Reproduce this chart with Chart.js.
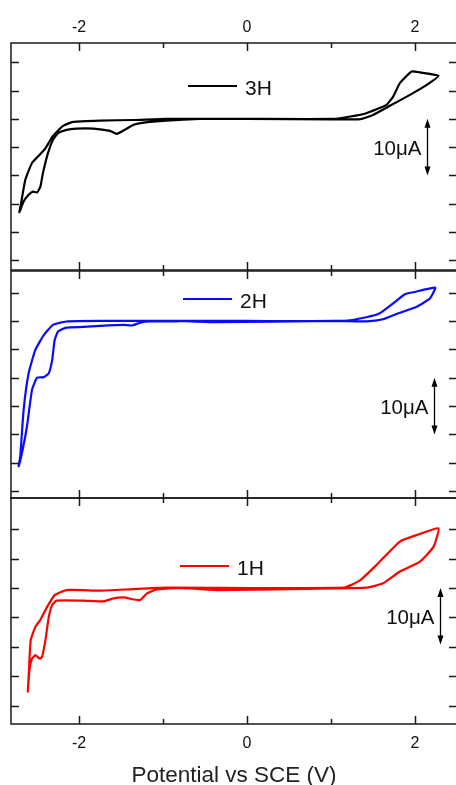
<!DOCTYPE html>
<html>
<head>
<meta charset="utf-8">
<script src="https://cdn.jsdelivr.net/npm/chart.js@4"></script>
<style>
  html, body { margin: 0; padding: 0; background: #fff; overflow: hidden; width: 456px; height: 785px; position: relative; }
  canvas { position: absolute; left: 0; }
</style>
</head>
<body>
<canvas id="cv3" width="460" height="275" style="top:0px"></canvas>
<canvas id="cv2" width="460" height="237" style="top:266px"></canvas>
<canvas id="cv1" width="460" height="296" style="top:493px"></canvas>
<script>
// potential (V vs SCE) and current (uA)
const xTicks = [-2, 0, 2];
const xMinorTicks = [-1, 1];

const v3H = [-0.56, -0.96, -1.23, -1.35, -1.55, -1.63, -1.83, -2.03, -2.15, -2.25, -2.31, -2.37, -2.43, -2.46, -2.50, -2.55, -2.60, -2.66, -2.71,
             -2.69, -2.64, -2.56, -2.46, -2.40, -2.31, -2.19, -2.07, -1.75, -1.35, -0.96, 0, 1.03, 1.23, 1.42, 1.66, 1.74, 1.82, 1.96, 2.06, 2.28,
             2.14, 1.94, 1.70, 1.50, 1.35, 1.03, 0, -0.56];
const i3H = [0, -0.3, -0.65, -1.06, -2.65, -2.12, -1.71, -1.71, -1.94, -2.53, -3.7, -6.06, -9.6, -11.96, -13.0, -12.85, -13.4, -14.6, -16.5,
             -14.9, -10.8, -7.8, -6.2, -5.2, -3.0, -1.24, -0.53, -0.3, -0.2, 0, 0, 0, 0.41, 1.0, 2.47, 3.94, 6.3, 8.36, 8.2, 7.6,
             6.0, 4.24, 2.3, 0.7, -0.05, -0.1, 0, 0];

const v2H = [-0.82, -1.155, -1.27, -1.37, -1.47, -1.75, -1.95, -2.15, -2.25, -2.29, -2.32, -2.36, -2.42, -2.50, -2.56, -2.62, -2.68, -2.72,
             -2.70, -2.66, -2.60, -2.52, -2.42, -2.31, -2.15, -1.75, 0, 1.15, 1.42, 1.58, 1.74, 1.88, 1.98, 2.24,
             2.18, 2.02, 1.78, 1.62, 1.42, 1.03, -0.40, -0.82];
const i2H = [-0.1, -0.1, -0.3, -0.8, -0.7, -0.88, -1.06, -1.17, -1.88, -3.35, -6.9, -9.2, -9.9, -10.0, -12.15, -18.6, -23.3, -25.6,
             -23.9, -15.7, -9.2, -5.1, -2.5, -0.7, -0.1, 0, 0, 0, 0.65, 1.35, 3.1, 4.7, 5.05, 5.87,
             4.0, 2.5, 1.23, 0.3, -0.06, 0, -0.23, 0];

const v1H = [-0.77, -1.075, -1.19, -1.27, -1.35, -1.47, -1.59, -1.71, -1.95, -2.27, -2.32, -2.36, -2.40, -2.44, -2.47, -2.52, -2.56, -2.59, -2.61,
             -2.60, -2.575, -2.52, -2.46, -2.38, -2.29, -2.15, -1.75, -1.35, -0.96, 1.15, 1.35, 1.54, 1.82, 2.02, 2.28,
             2.22, 2.06, 1.82, 1.62, 1.42, 1.03, -0.36, -0.77];
const i1H = [0, -0.23, -0.9, -2.04, -1.93, -1.6, -1.76, -2.27, -2.15, -2.15, -2.9, -4.9, -8.85, -11.7, -12.0, -11.4, -12.0, -13.9, -17.6,
             -15.1, -8.85, -6.6, -5.4, -3.2, -1.2, -0.34, -0.45, -0.17, 0.06, 0.06, 1.36, 3.9, 7.9, 9.0, 10.15,
             7.0, 4.5, 2.8, 0.8, 0.06, -0.06, -0.34, 0];

const yTicks3H = [10, 5, 0, -5, -10, -15, -20, -25];
const yTicks2H = [5, 0, -5, -10, -15, -20, -25, -30];
const yTicks1H = [10, 5, 0, -5, -10, -15, -20];

const FONT = "'Liberation Sans', Arial, sans-serif";

const framePlugin = {
  id: 'frame',
  afterDatasetsDraw(chart, args, o) {
    const { ctx, chartArea: a } = chart;
    const x = chart.scales.x, y = chart.scales.y;
    ctx.save();
    ctx.strokeStyle = '#1a1a1a';
    ctx.lineWidth = 1.5;
    ctx.strokeRect(a.left, a.top, a.right - a.left, a.bottom - a.top);
    ctx.beginPath();
    xTicks.forEach(v => {
      const px = Math.round(x.getPixelForValue(v)) + 0.5;
      ctx.moveTo(px, a.top); ctx.lineTo(px, a.top + 8);
      ctx.moveTo(px, a.bottom); ctx.lineTo(px, a.bottom - 8);
    });
    xMinorTicks.forEach(v => {
      const px = Math.round(x.getPixelForValue(v)) + 0.5;
      ctx.moveTo(px, a.top); ctx.lineTo(px, a.top + 5);
      ctx.moveTo(px, a.bottom); ctx.lineTo(px, a.bottom - 5);
    });
    o.yTicks.forEach(v => {
      const py = Math.round(y.getPixelForValue(v)) + 0.5;
      ctx.moveTo(a.left, py); ctx.lineTo(a.left + 8, py);
      ctx.moveTo(a.right, py); ctx.lineTo(a.right - 8, py);
    });
    ctx.stroke();

    // legend sample + label
    const ly = a.top + o.legend.dy;
    const lx = a.left + o.legend.dx;
    ctx.strokeStyle = o.color;
    ctx.lineWidth = 2.2;
    ctx.beginPath();
    ctx.moveTo(lx, ly); ctx.lineTo(lx + 49, ly);
    ctx.stroke();
    ctx.fillStyle = '#111';
    ctx.font = '21px ' + FONT;
    ctx.textBaseline = 'middle';
    ctx.textAlign = 'left';
    ctx.fillText(o.legend.text, lx + 57, ly + 3);

    // scale bar
    const bx = Math.round(x.getPixelForValue(o.bar.x)) + 0.5;
    const b0 = y.getPixelForValue(o.bar.from), b1 = y.getPixelForValue(o.bar.to);
    ctx.strokeStyle = '#000';
    ctx.fillStyle = '#000';
    ctx.lineWidth = 1.3;
    ctx.beginPath();
    ctx.moveTo(bx, b0 + 6); ctx.lineTo(bx, b1 - 6);
    ctx.stroke();
    ctx.beginPath();
    ctx.moveTo(bx, b0); ctx.lineTo(bx - 3, b0 + 9); ctx.lineTo(bx + 3, b0 + 9); ctx.closePath();
    ctx.moveTo(bx, b1); ctx.lineTo(bx - 3, b1 - 9); ctx.lineTo(bx + 3, b1 - 9); ctx.closePath();
    ctx.fill();
    ctx.fillStyle = '#111';
    ctx.textAlign = 'right';
    ctx.font = '20.5px ' + FONT;
    ctx.fillText('10\u03bcA', bx - 6, (b0 + b1) / 2 + 2);
    ctx.restore();
  }
};

function pts(vs, is) {
  return vs.map((v, k) => ({ x: v, y: is[k] }));
}

function makePanel(id, opt) {
  const xAxis = {
    type: 'linear', min: -2.81, max: 2.5,
    position: opt.axisPos || 'bottom',
    display: !!opt.axisPos,
    grid: { display: false, drawTicks: false },
    border: { display: false },
    afterBuildTicks: s => { s.ticks = xTicks.map(v => ({ value: v })); },
    ticks: { color: '#111', font: { family: FONT, size: 16 }, padding: opt.tickPad || 0 },
    title: {
      display: !!opt.title, text: opt.title || '', color: '#222',
      font: { family: FONT, size: 22.5 }, padding: 0
    },
    afterFit: s => { if (opt.axisH) s.height = opt.axisH; }
  };
  return new Chart(document.getElementById(id), {
    type: 'scatter',
    data: {
      datasets: [{
        data: pts(opt.v, opt.i),
        showLine: true,
        borderColor: opt.color,
        borderWidth: 2.2,
        pointRadius: 0,
        tension: 0.15,
        fill: false
      }]
    },
    options: {
      responsive: false,
      animation: false,
      devicePixelRatio: 1,
      layout: { padding: opt.pad },
      scales: {
        x: xAxis,
        y: { type: 'linear', min: opt.ymin, max: opt.ymax, display: false }
      },
      plugins: {
        legend: { display: false },
        tooltip: { enabled: false },
        frame: { yTicks: opt.yTicks, color: opt.color, legend: opt.legend, bar: opt.bar }
      }
    },
    plugins: [framePlugin]
  });
}

makePanel('cv3', {
  v: v3H, i: i3H, color: '#000000', ymin: -26.7, ymax: 13.4, yTicks: yTicks3H,
  axisPos: 'top', axisH: 43, tickPad: 6,
  pad: { top: 0, bottom: 5, left: 11, right: 3 },
  legend: { text: '3H', dx: 177, dy: 43 },
  bar: { x: 2.14, from: 0, to: -10 }
});
makePanel('cv2', {
  v: v2H, i: i2H, color: '#0a0aff', ymin: -31.2, ymax: 8.8, yTicks: yTicks2H,
  pad: { top: 5, bottom: 5, left: 11, right: 3 },
  legend: { text: '2H', dx: 172, dy: 28 },
  bar: { x: 2.23, from: -10, to: -20 }
});
makePanel('cv1', {
  v: v1H, i: i1H, color: '#ff0000', ymin: -23.1, ymax: 15.3, yTicks: yTicks1H,
  axisPos: 'bottom', axisH: 65, tickPad: 10, title: 'Potential vs SCE (V)',
  pad: { top: 5, bottom: 0, left: 11, right: 3 },
  legend: { text: '1H', dx: 169, dy: 68 },
  bar: { x: 2.30, from: 0, to: -9.6 }
});
</script>
</body>
</html>
